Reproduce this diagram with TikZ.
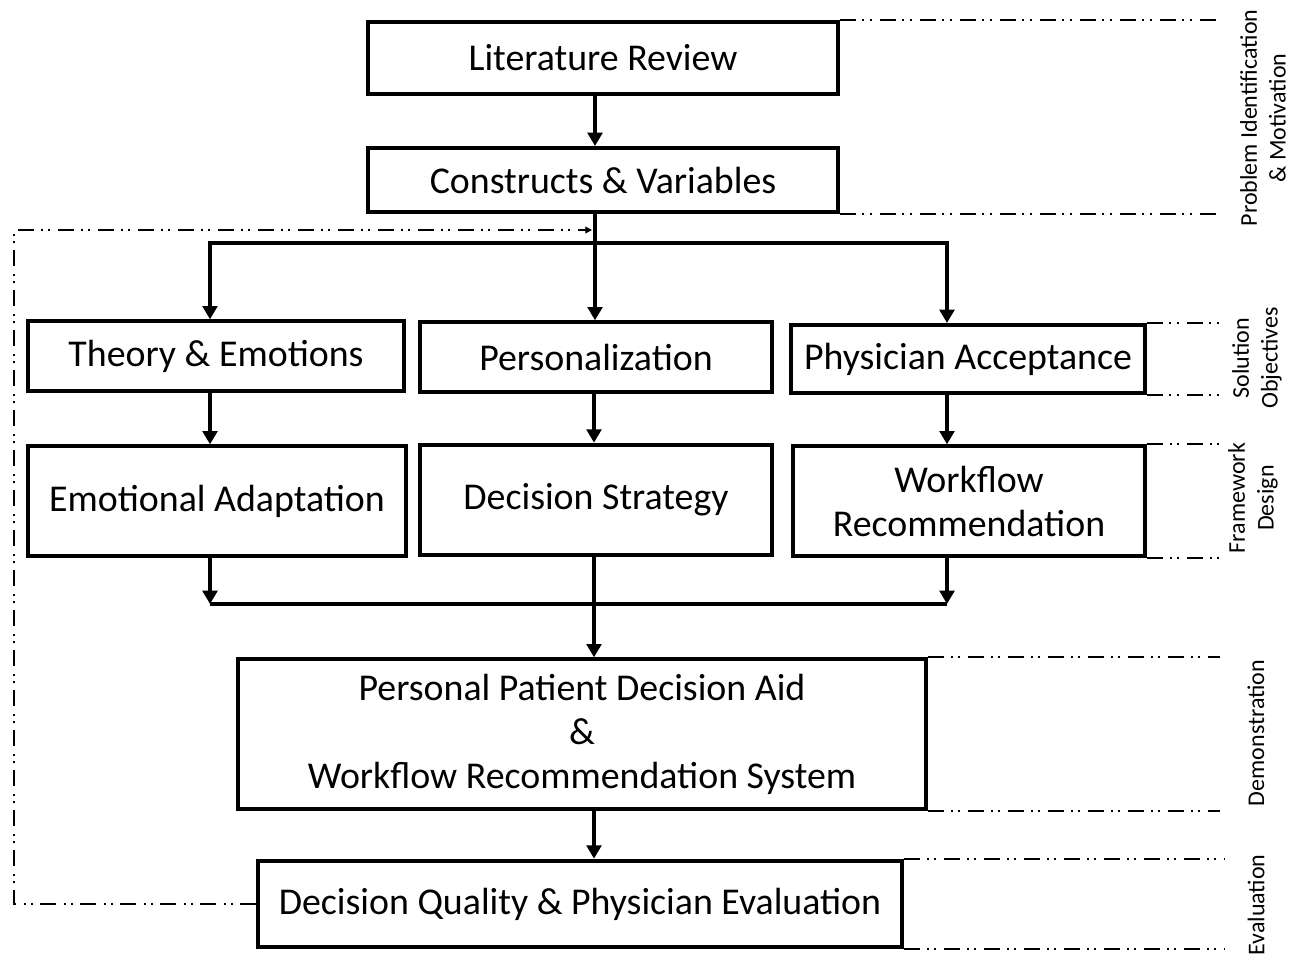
\documentclass[tikz,border=0pt]{standalone}
\usepackage{fontspec}
\setmainfont{Carlito}
\usepackage{tikz}
\usetikzlibrary{arrows.meta}
\usetikzlibrary{calc}

\begin{document}
\begin{tikzpicture}[x=0.75pt, y=-0.75pt, line join=miter,
        box_style/.style={rectangle,draw=black,line width=3pt,inner sep=0pt,align=center,font=\fontsize{28.4}{33}\selectfont},
        arrow_style/.style={draw=black,line width=3pt,-{Triangle[length=10pt,width=11pt]}},
        line_style/.style={draw=black,line width=3pt,-},
        phase_style/.style={draw=black,line width=1.6pt,dash pattern=on 12pt off 5pt on 1.5pt off 4pt on 1.5pt off 6pt},
        feedback_style/.style={draw=black,line width=1.6pt,dash pattern=on 12pt off 5pt on 1.5pt off 4pt on 1.5pt off 6pt,-{Triangle[length=5pt,width=5pt]}},
        phase_label_style/.style={rotate=90,align=center,inner sep=0pt,font=\fontsize{18}{21.5}\selectfont}]

        \useasboundingbox (0,0) rectangle (1291,953);

        % boxes
        \node [box_style, minimum width=352pt, minimum height=54pt](lit) at (603,58) {Literature Review};
        \node [box_style, minimum width=352pt, minimum height=48pt](cons) at (603,180) {Constructs \& Variables};
        \node [box_style, minimum width=282pt, minimum height=52pt](theory) at (216,356) {Theory \& Emotions};
        \node [box_style, minimum width=264pt, minimum height=52pt](pers) at (596,357) {Personalization};
        \node [box_style, minimum width=265pt, minimum height=51pt](accept) at (968,359) {Physician Acceptance};
        \node [box_style, minimum width=283pt, minimum height=82pt](emo) at (217,501) {Emotional Adaptation};
        \node [box_style, minimum width=264pt, minimum height=83pt](strat) at (596,500) {Decision Strategy};
        \node [box_style, minimum width=264pt, minimum height=82pt](flow) at (969,501) {Workflow\\Recommendation};
        \node [box_style, minimum width=516pt, minimum height=112pt](aid) at (582,734) {Personal Patient Decision Aid\\\&\\Workflow Recommendation System};
        \node [box_style, minimum width=483pt, minimum height=65pt](eval) at (580,904) {Decision Quality \& Physician Evaluation};

        % phase labels
        \node [phase_label_style](ph1) at (1263,118) {Problem Identification\\\& Motivation};
        \node [phase_label_style](ph2) at (1257,358) {Solution\\Objectives};
        \node [phase_label_style](ph3) at (1253,498) {Framework\\Design};
        \node [phase_label_style](ph4) at (1256,733) {Demonstration};
        \node [phase_label_style](ph5) at (1256,905) {Evaluation};

        % routing points
        \coordinate (spine) at (595,243);
        \coordinate (left_col) at (210,243);
        \coordinate (right_col) at (947,243);
        \coordinate (merge) at (594,604);
        \coordinate (fb_corner) at (14,230);
        \coordinate (fb_end) at (592,230);
        \coordinate (phase_end) at (1220,0);

        % main flow
        \draw [arrow_style] (lit.south -| spine) -- (cons.north -| spine);
        \draw [line_style] (cons.south -| spine) -- (spine);
        \draw [arrow_style] (spine) -- (pers.north -| spine);
        \draw [arrow_style] (spine) -| (theory.north -| left_col);
        \draw [arrow_style] (spine) -| (accept.north -| right_col);
        \draw [arrow_style] (theory.south -| left_col) -- (emo.north -| left_col);
        \draw [arrow_style] (pers.south -| merge) -- (strat.north -| merge);
        \draw [arrow_style] (accept.south -| right_col) -- (flow.north -| right_col);
        \draw [arrow_style] (emo.south -| left_col) -- (merge -| left_col);
        \draw [arrow_style] (flow.south -| right_col) -- (merge -| right_col);
        \draw [line_style] (merge -| left_col) -- (merge -| right_col);
        \draw [arrow_style] (strat.south -| merge) -- (aid.north -| merge);
        \draw [arrow_style] (aid.south -| merge) -- (eval.north -| merge);

        % feedback loop
        \draw [feedback_style] (eval.west) -| (fb_corner) -- (fb_end);

        % phase boundaries
        \draw [phase_style] (lit.north east) -- (lit.north east -| phase_end);
        \draw [phase_style] (cons.south east) -- (cons.south east -| phase_end);
        \draw [phase_style] (accept.north east) -- (accept.north east -| phase_end);
        \draw [phase_style] (accept.south east) -- (accept.south east -| phase_end);
        \draw [phase_style] (flow.north east) -- (flow.north east -| phase_end);
        \draw [phase_style] (flow.south east) -- (flow.south east -| phase_end);
        \draw [phase_style] (aid.north east) -- (aid.north east -| phase_end);
        \draw [phase_style] (aid.south east) -- (aid.south east -| phase_end);
        \draw [phase_style] (eval.north east) -- ($(eval.north east -| phase_end)+(5,0)$);
        \draw [phase_style] (eval.south east) -- ($(eval.south east -| phase_end)+(5,0)$);
\end{tikzpicture}
\end{document}
